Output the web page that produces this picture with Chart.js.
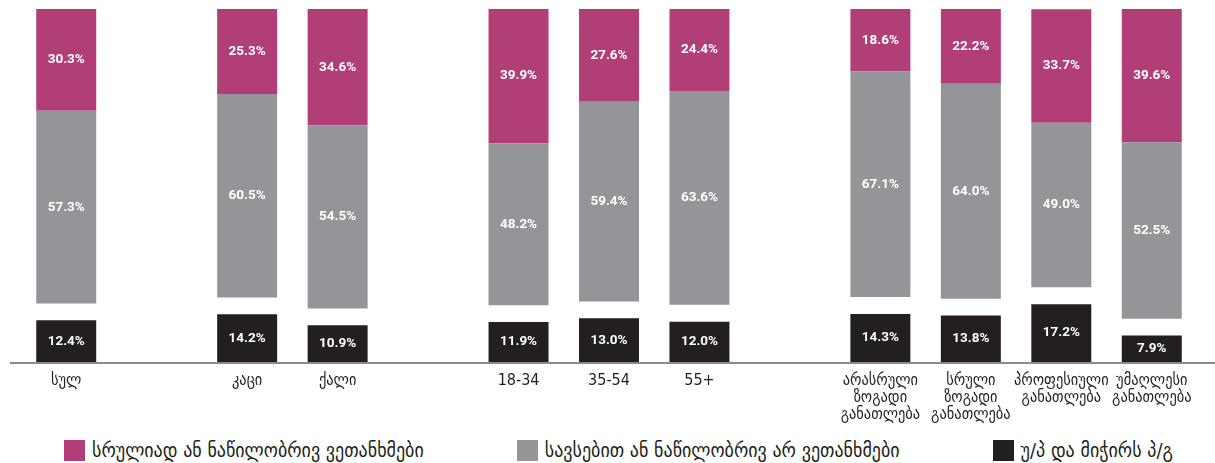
<!DOCTYPE html>
<html>
<head>
<meta charset="utf-8">
<script src="https://cdn.jsdelivr.net/npm/chart.js@4.4.1/dist/chart.umd.min.js"></script>
<style>
  html, body { margin: 0; padding: 0; background: #fff; }
  #wrap { position: relative; width: 1215px; height: 425px; }
  #legend {
    position: absolute; top: 438px; left: 64px;
    display: flex; gap: 93px; align-items: center;
    font-family: "DejaVu Sans Condensed", "DejaVu Sans", sans-serif;
    font-size: 20px; color: #231f20; white-space: nowrap;
  }
  #legend .item { display: flex; align-items: center; }
  #legend .box { width: 21px; height: 21px; margin-right: 7px; }
</style>
</head>
<body>
<div id="wrap"><canvas id="chart"></canvas></div>
<div id="legend"></div>
<script>
// Категории (пустые строки — промежутки между группами)
const categories = [
  'სულ', '',
  'კაცი', 'ქალი', '',
  '18-34', '35-54', '55+', '',
  ['არასრული', 'ზოგადი', 'განათლება'],
  ['სრული', 'ზოგადი', 'განათლება'],
  ['პროფესიული', 'განათლება'],
  ['უმაღლესი', 'განათლება']
];

// Значения серий, %
const agree = [30.3, null, 25.3, 34.6, null, 39.9, 27.6, 24.4, null, 18.6, 22.2, 33.7, 39.6];
const disagree = [57.3, null, 60.5, 54.5, null, 48.2, 59.4, 63.6, null, 67.1, 64.0, 49.0, 52.5];
const dontKnow = [12.4, null, 14.2, 10.9, null, 11.9, 13.0, 12.0, null, 14.3, 13.8, 17.2, 7.9];

const seriesNames = [
  'სრულიად ან ნაწილობრივ ვეთანხმები',
  'სავსებით ან ნაწილობრივ არ ვეთანხმები',
  'უ/პ და მიჭირს პ/გ'
];

// Пустой зазор между нижним сегментом и остальными
const gapSize = 5;
const spacer = dontKnow.map(v => v == null ? null : gapSize);

const colors = ['#b23e78', '#949599', '#231f20'];

// Подписи значений внутри сегментов
const valueLabels = {
  id: 'valueLabels',
  afterDatasetsDraw(chart) {
    const ctx = chart.ctx;
    ctx.save();
    ctx.fillStyle = '#ffffff';
    ctx.font = 'bold 13.5px "Liberation Sans Narrow", "Roboto", sans-serif';
    ctx.textAlign = 'center';
    ctx.textBaseline = 'middle';
    chart.data.datasets.forEach((ds, i) => {
      if (ds.isSpacer) return;
      const meta = chart.getDatasetMeta(i);
      meta.data.forEach((bar, j) => {
        const v = ds.data[j];
        if (v == null) return;
        const y = (bar.y + bar.base) / 2;
        ctx.fillText(v.toFixed(1) + '%', bar.x, y);
      });
    });
    ctx.restore();
  }
};

// Базовая линия под столбцами
const baseLine = {
  id: 'baseLine',
  afterDatasetsDraw(chart) {
    const ctx = chart.ctx;
    const y = chart.scales.y.getPixelForValue(0);
    ctx.save();
    ctx.strokeStyle = '#8c8c8c';
    ctx.lineWidth = 2;
    ctx.beginPath();
    ctx.moveTo(10, y + 1);
    ctx.lineTo(chart.width, y + 1);
    ctx.stroke();
    ctx.restore();
  }
};

const ctx = document.getElementById('chart').getContext('2d');
const chart = new Chart(ctx, {
  type: 'bar',
  data: {
    labels: categories,
    datasets: [
      { label: seriesNames[2], data: dontKnow, backgroundColor: colors[2] },
      { label: 'spacer', data: spacer, backgroundColor: 'rgba(0,0,0,0)', isSpacer: true },
      { label: seriesNames[1], data: disagree, backgroundColor: colors[1] },
      { label: seriesNames[0], data: agree, backgroundColor: colors[0] }
    ]
  },
  options: {
    responsive: true,
    maintainAspectRatio: false,
    animation: false,
    datasets: {
      bar: { categoryPercentage: 1, barPercentage: 0.663, borderWidth: 0 }
    },
    layout: { padding: { top: 9, left: 21, right: 18, bottom: 0 } },
    scales: {
      x: {
        stacked: true,
        grid: { display: false, drawTicks: false },
        border: { display: false },
        ticks: {
          color: '#231f20',
          padding: 10,
          maxRotation: 0,
          autoSkip: false,
          font: { family: '"DejaVu Sans Condensed", "DejaVu Sans", sans-serif', size: 16, lineHeight: 1.08 }
        },
        afterFit(scale) { scale.height = 63; }
      },
      y: {
        stacked: true,
        display: false,
        min: 0,
        max: 100 + gapSize
      }
    },
    plugins: {
      legend: { display: false },
      tooltip: { enabled: false }
    }
  },
  plugins: [valueLabels, baseLine]
});

// Легенда под графиком
const legend = document.getElementById('legend');
seriesNames.forEach((name, i) => {
  const item = document.createElement('div');
  item.className = 'item';
  item.innerHTML = '<span class="box" style="background:' + colors[i] + '"></span><span>' + name + '</span>';
  legend.appendChild(item);
});
</script>
</body>
</html>
